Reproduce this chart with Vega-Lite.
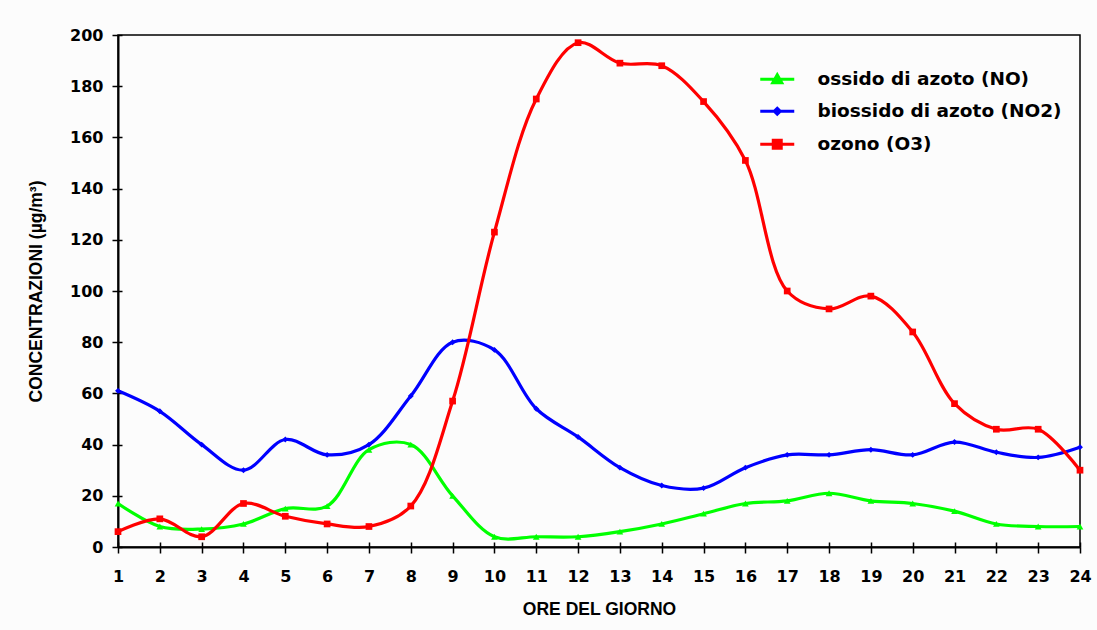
{
  "$schema": "https://vega.github.io/schema/vega-lite/v6.json",
  "autosize": {"type": "none"},
  "padding": {"left": 118, "top": 35, "right": 17, "bottom": 83},
  "width": 962,
  "height": 512,
  "background": "#fcfcfc",
  "config": {
    "view": {"stroke": "#000000", "strokeWidth": 1.5},
    "axis": {"grid": false, "domainColor": "#000000", "domainWidth": 2, "tickColor": "#000000", "tickWidth": 1.5,
      "labelFlush": false, "labelOverlap": false,
      "labelFont": "DejaVu Sans", "labelFontWeight": "bold", "labelFontSize": 16, "labelColor": "#000000",
      "titleFont": "Liberation Sans", "titleFontWeight": "bold", "titleFontSize": 17.5, "titleColor": "#000000"}
  },
  "data": {"values": [
    {"ora": 1, "serie": "ossido di azoto (NO)", "valore": 17},
    {"ora": 2, "serie": "ossido di azoto (NO)", "valore": 8},
    {"ora": 3, "serie": "ossido di azoto (NO)", "valore": 7},
    {"ora": 4, "serie": "ossido di azoto (NO)", "valore": 9},
    {"ora": 5, "serie": "ossido di azoto (NO)", "valore": 15},
    {"ora": 6, "serie": "ossido di azoto (NO)", "valore": 16},
    {"ora": 7, "serie": "ossido di azoto (NO)", "valore": 38},
    {"ora": 8, "serie": "ossido di azoto (NO)", "valore": 40},
    {"ora": 9, "serie": "ossido di azoto (NO)", "valore": 20},
    {"ora": 10, "serie": "ossido di azoto (NO)", "valore": 4},
    {"ora": 11, "serie": "ossido di azoto (NO)", "valore": 4},
    {"ora": 12, "serie": "ossido di azoto (NO)", "valore": 4},
    {"ora": 13, "serie": "ossido di azoto (NO)", "valore": 6},
    {"ora": 14, "serie": "ossido di azoto (NO)", "valore": 9},
    {"ora": 15, "serie": "ossido di azoto (NO)", "valore": 13},
    {"ora": 16, "serie": "ossido di azoto (NO)", "valore": 17},
    {"ora": 17, "serie": "ossido di azoto (NO)", "valore": 18},
    {"ora": 18, "serie": "ossido di azoto (NO)", "valore": 21},
    {"ora": 19, "serie": "ossido di azoto (NO)", "valore": 18},
    {"ora": 20, "serie": "ossido di azoto (NO)", "valore": 17},
    {"ora": 21, "serie": "ossido di azoto (NO)", "valore": 14},
    {"ora": 22, "serie": "ossido di azoto (NO)", "valore": 9},
    {"ora": 23, "serie": "ossido di azoto (NO)", "valore": 8},
    {"ora": 24, "serie": "ossido di azoto (NO)", "valore": 8},
    {"ora": 1, "serie": "biossido di azoto (NO2)", "valore": 61},
    {"ora": 2, "serie": "biossido di azoto (NO2)", "valore": 53},
    {"ora": 3, "serie": "biossido di azoto (NO2)", "valore": 40},
    {"ora": 4, "serie": "biossido di azoto (NO2)", "valore": 30},
    {"ora": 5, "serie": "biossido di azoto (NO2)", "valore": 42},
    {"ora": 6, "serie": "biossido di azoto (NO2)", "valore": 36},
    {"ora": 7, "serie": "biossido di azoto (NO2)", "valore": 40},
    {"ora": 8, "serie": "biossido di azoto (NO2)", "valore": 59},
    {"ora": 9, "serie": "biossido di azoto (NO2)", "valore": 80},
    {"ora": 10, "serie": "biossido di azoto (NO2)", "valore": 77},
    {"ora": 11, "serie": "biossido di azoto (NO2)", "valore": 54},
    {"ora": 12, "serie": "biossido di azoto (NO2)", "valore": 43},
    {"ora": 13, "serie": "biossido di azoto (NO2)", "valore": 31},
    {"ora": 14, "serie": "biossido di azoto (NO2)", "valore": 24},
    {"ora": 15, "serie": "biossido di azoto (NO2)", "valore": 23},
    {"ora": 16, "serie": "biossido di azoto (NO2)", "valore": 31},
    {"ora": 17, "serie": "biossido di azoto (NO2)", "valore": 36},
    {"ora": 18, "serie": "biossido di azoto (NO2)", "valore": 36},
    {"ora": 19, "serie": "biossido di azoto (NO2)", "valore": 38},
    {"ora": 20, "serie": "biossido di azoto (NO2)", "valore": 36},
    {"ora": 21, "serie": "biossido di azoto (NO2)", "valore": 41},
    {"ora": 22, "serie": "biossido di azoto (NO2)", "valore": 37},
    {"ora": 23, "serie": "biossido di azoto (NO2)", "valore": 35},
    {"ora": 24, "serie": "biossido di azoto (NO2)", "valore": 39},
    {"ora": 1, "serie": "ozono (O3)", "valore": 6},
    {"ora": 2, "serie": "ozono (O3)", "valore": 11},
    {"ora": 3, "serie": "ozono (O3)", "valore": 4},
    {"ora": 4, "serie": "ozono (O3)", "valore": 17},
    {"ora": 5, "serie": "ozono (O3)", "valore": 12},
    {"ora": 6, "serie": "ozono (O3)", "valore": 9},
    {"ora": 7, "serie": "ozono (O3)", "valore": 8},
    {"ora": 8, "serie": "ozono (O3)", "valore": 16},
    {"ora": 9, "serie": "ozono (O3)", "valore": 57},
    {"ora": 10, "serie": "ozono (O3)", "valore": 123},
    {"ora": 11, "serie": "ozono (O3)", "valore": 175},
    {"ora": 12, "serie": "ozono (O3)", "valore": 197},
    {"ora": 13, "serie": "ozono (O3)", "valore": 189},
    {"ora": 14, "serie": "ozono (O3)", "valore": 188},
    {"ora": 15, "serie": "ozono (O3)", "valore": 174},
    {"ora": 16, "serie": "ozono (O3)", "valore": 151},
    {"ora": 17, "serie": "ozono (O3)", "valore": 100},
    {"ora": 18, "serie": "ozono (O3)", "valore": 93},
    {"ora": 19, "serie": "ozono (O3)", "valore": 98},
    {"ora": 20, "serie": "ozono (O3)", "valore": 84},
    {"ora": 21, "serie": "ozono (O3)", "valore": 56},
    {"ora": 22, "serie": "ozono (O3)", "valore": 46},
    {"ora": 23, "serie": "ozono (O3)", "valore": 46},
    {"ora": 24, "serie": "ozono (O3)", "valore": 30}
  ]},
  "layer": [
    {
      "mark": {"type": "line", "interpolate": "catmull-rom", "strokeWidth": 3.2},
      "encoding": {
        "x": {"field": "ora", "type": "quantitative", "scale": {"domain": [1, 24], "nice": false},
          "axis": {"title": "ORE DEL GIORNO", "values": [1,2,3,4,5,6,7,8,9,10,11,12,13,14,15,16,17,18,19,20,21,22,23,24], "format": "d", "tickSize": 6, "labelPadding": 15, "titlePadding": 16, "orient": "bottom"}},
        "y": {"field": "valore", "type": "quantitative", "scale": {"domain": [0, 200], "nice": false},
          "axis": {"title": "CONCENTRAZIONI (µg/m³)", "values": [0,20,40,60,80,100,120,140,160,180,200], "tickSize": 6, "labelPadding": 9, "titlePadding": 24, "orient": "left"}},
        "color": {"field": "serie", "type": "nominal",
          "scale": {"domain": ["ossido di azoto (NO)", "biossido di azoto (NO2)", "ozono (O3)"], "range": ["#00ff00", "#0000ff", "#ff0000"]},
          "legend": {"title": null, "orient": "none", "legendX": 650, "legendY": 35, "padding": 0,
            "symbolSize": 100, "labelOffset": 31, "rowPadding": 13, "labelLimit": 0,
            "labelFont": "DejaVu Sans", "labelFontWeight": "bold", "labelFontSize": 18.5, "labelColor": "#000000",
            "symbolStrokeWidth": 3,
            "encode": {"symbols": {"update": {
              "shape": {"signal": "datum.value === 'ossido di azoto (NO)' ? 'M-3.4,0H3.4M0,-0.9L0.9,0.7H-0.9Z' : datum.value === 'ozono (O3)' ? 'M-3.4,0H3.4M-0.8,-0.8H0.8V0.8H-0.8Z' : 'M-3.4,0H3.4M0,-0.6L0.6,0L0,0.6L-0.6,0Z'"},
              "fill": {"signal": "datum.value === 'ossido di azoto (NO)' ? '#00ff00' : datum.value === 'ozono (O3)' ? '#ff0000' : '#0000ff'"},
              "stroke": {"signal": "datum.value === 'ossido di azoto (NO)' ? '#00ff00' : datum.value === 'ozono (O3)' ? '#ff0000' : '#0000ff'"},
              "strokeWidth": {"value": 3},
              "opacity": {"value": 1}
            }}}
          }}
      }
    },
    {
      "transform": [{"filter": "datum.serie === 'ossido di azoto (NO)'"}],
      "mark": {"type": "point", "filled": true, "opacity": 1, "size": 45, "shape": "triangle-up", "color": "#00ff00"},
      "encoding": {
        "x": {"field": "ora", "type": "quantitative",
          "axis": {"title": null, "labels": false, "domain": false, "tickSize": -5, "orient": "bottom", "values": [1,2,3,4,5,6,7,8,9,10,11,12,13,14,15,16,17,18,19,20,21,22,23,24]}},
        "y": {"field": "valore", "type": "quantitative",
          "axis": {"title": null, "labels": false, "domain": false, "tickSize": -4, "orient": "left", "values": [0,20,40,60,80,100,120,140,160,180,200]}}
      }
    },
    {
      "transform": [{"filter": "datum.serie === 'biossido di azoto (NO2)'"}],
      "mark": {"type": "point", "filled": true, "opacity": 1, "size": 35, "shape": "diamond", "color": "#0000ff"},
      "encoding": {
        "x": {"field": "ora", "type": "quantitative", "axis": null},
        "y": {"field": "valore", "type": "quantitative", "axis": null}
      }
    },
    {
      "transform": [{"filter": "datum.serie === 'ozono (O3)'"}],
      "mark": {"type": "point", "filled": true, "opacity": 1, "size": 45, "shape": "square", "color": "#ff0000"},
      "encoding": {
        "x": {"field": "ora", "type": "quantitative", "axis": null},
        "y": {"field": "valore", "type": "quantitative", "axis": null}
      }
    }
  ],
  "resolve": {"axis": {"x": "independent", "y": "independent"}}
}
